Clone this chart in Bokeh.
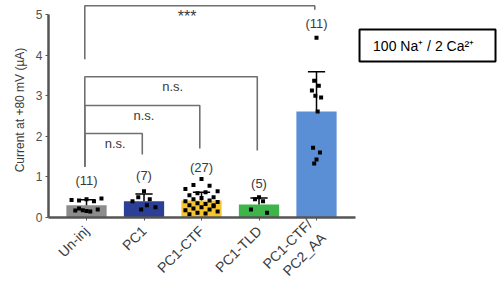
import numpy as np
from bokeh.plotting import figure
from bokeh.models import FixedTicker, Range1d
from bokeh.embed import file_html
from bokeh.resources import INLINE
from bokeh.core.properties import value

# ---------------- data ----------------
groups = ["Un-inj", "PC1", "PC1-CTF", "PC1-TLD", "PC1-CTF/\nPC2_AA"]
counts = ["(11)", "(7)", "(27)", "(5)", "(11)"]
means = [0.30, 0.40, 0.42, 0.32, 2.61]
sds = [0.14, 0.18, 0.20, 0.16, 0.98]
colors = ["#8c8c8c", "#2b3f97", "#f4c431", "#3db54a", "#5b8fd5"]

pts_uninj = [0.45, 0.42, 0.40, 0.43, 0.47, 0.18, 0.15, 0.17, 0.20, 0.16, 0.22]
pts_pc1 = [0.65, 0.50, 0.45, 0.40, 0.25, 0.20, 0.30]
pts_ctf = [0.95, 0.80, 0.78, 0.70, 0.65, 0.60, 0.62, 0.55, 0.50, 0.48, 0.45,
           0.42, 0.40, 0.38, 0.35, 0.33, 0.30, 0.28, 0.25, 0.22, 0.20, 0.18,
           0.15, 0.12, 0.10, 0.08, 0.30]
pts_tld = [0.50, 0.45, 0.40, 0.20, 0.12]
pts_aa = [4.43, 3.37, 3.25, 3.13, 2.96, 3.00, 2.61, 1.72, 1.60, 1.43, 1.33]
points = [pts_uninj, pts_pc1, pts_ctf, pts_tld, pts_aa]

# brackets: (left group, right group, top y, left leg bottom, right leg bottom, label)
br_left = [0, 0, 0, 0]
br_right = [1, 2, 3, 4]
br_top = [2.07, 2.76, 3.47, 5.22]
br_lbot = [1.25, 1.25, 1.25, 3.90]
br_rbot = [1.55, 1.70, 1.65, 5.12]
br_text = ["n.s.", "n.s.", "n.s.", "***"]
br_text_x = [0.5, 1.0, 1.5, 1.75]
br_text_size = ["13px", "13px", "13px", "16px"]

legend_text = "100 Na\u207a  /  2 Ca\u00b2\u207a"

FONT = "Liberation Sans"
GRAY = "#555555"
TXT = "#3a3a3a"

# ---------------- figure ----------------
p = figure(width=500, height=308, output_backend="svg", toolbar_location=None,
           x_range=Range1d(-0.661, 7.165), y_range=Range1d(0, 5.3),
           min_border_left=48, min_border_right=2, min_border_top=2,
           min_border_bottom=91)
p.outline_line_color = None
p.grid.visible = False
p.background_fill_color = "white"
p.border_fill_color = "white"

xs = list(range(len(groups)))

# bars
p.vbar(x=xs, top=means, bottom=0, width=0.7, fill_color=colors,
       line_color=None)

# error bars (upper)
err_top = [m + s for m, s in zip(means, sds)]
p.segment(x0=xs, y0=means, x1=xs, y1=err_top, line_color="black", line_width=1.5)
p.segment(x0=[x - 0.15 for x in xs], y0=err_top, x1=[x + 0.15 for x in xs],
          y1=err_top, line_color="black", line_width=1.5)

# points with deterministic spread
pattern = [0, -0.5, 0.5, -1, 1, -0.25, 0.25, -0.75, 0.75]
spread = [0.26, 0.2, 0.28, 0.14, 0.08]
px, py = [], []
for gi, vals in enumerate(points):
    for j, v in enumerate(vals):
        px.append(gi + pattern[j % len(pattern)] * spread[gi])
        py.append(v)
p.scatter(px, py, marker="square", size=4, fill_color="black", line_color=None)

# counts
count_y = [0.91, 1.03, 1.23, 0.84, 4.78]
p.text(x=xs, y=count_y, text=counts, text_align="center",
       text_baseline="middle", text_font=value(FONT), text_font_size="13px",
       text_color=TXT)

# brackets
off = -0.03
for l, r, t, lb, rb, lab, tx, fs in zip(br_left, br_right, br_top, br_lbot,
                                        br_rbot, br_text, br_text_x,
                                        br_text_size):
    p.line([l + off, l + off, r + off, r + off], [lb, t, t, rb],
           line_color="#707070", line_width=1.6)
    p.text(x=[tx], y=[t - 0.06], text=[lab], text_align="center",
           text_baseline="top", text_font=value(FONT), text_font_size=fs,
           text_color=TXT)

# legend box
p.quad(left=[4.748], right=[7.113], bottom=[3.845], top=[4.634],
       fill_color="white", line_color="black", line_width=2)
p.text(x=[5.93], y=[4.24], text=[legend_text], text_align="center",
       text_baseline="middle", text_font=value(FONT), text_font_size="14px",
       text_color="black")

# axes
xa = p.xaxis[0]
xa.ticker = FixedTicker(ticks=xs)
xa.major_label_overrides = {i: g for i, g in enumerate(groups)}
xa.major_label_orientation = np.pi / 4
xa.bounds = (-0.661, 4.68)
xa.axis_line_color = GRAY
xa.axis_line_width = 2.5
xa.major_tick_line_color = GRAY
xa.major_tick_in = 0
xa.major_tick_out = 3
xa.minor_tick_line_color = None
xa.major_label_text_font = FONT
xa.major_label_text_font_size = "14px"
xa.major_label_text_color = TXT
xa.major_label_standoff = 8

ya = p.yaxis[0]
ya.ticker = FixedTicker(ticks=[0, 1, 2, 3, 4, 5])
ya.bounds = (0, 5)
ya.axis_line_color = GRAY
ya.axis_line_width = 2.5
ya.major_tick_line_color = GRAY
ya.major_tick_in = 0
ya.major_tick_out = 3
ya.minor_tick_line_color = None
ya.major_label_text_font = FONT
ya.major_label_text_font_size = "12px"
ya.major_label_text_color = "#505050"
ya.major_label_standoff = 3
ya.axis_label = "Current at +80 mV (\u00b5A)"
ya.axis_label_text_font = FONT
ya.axis_label_text_font_style = "normal"
ya.axis_label_text_font_size = "12px"
ya.axis_label_text_color = TXT
ya.axis_label_standoff = 6

open("out.html", "w").write(file_html(p, INLINE))
